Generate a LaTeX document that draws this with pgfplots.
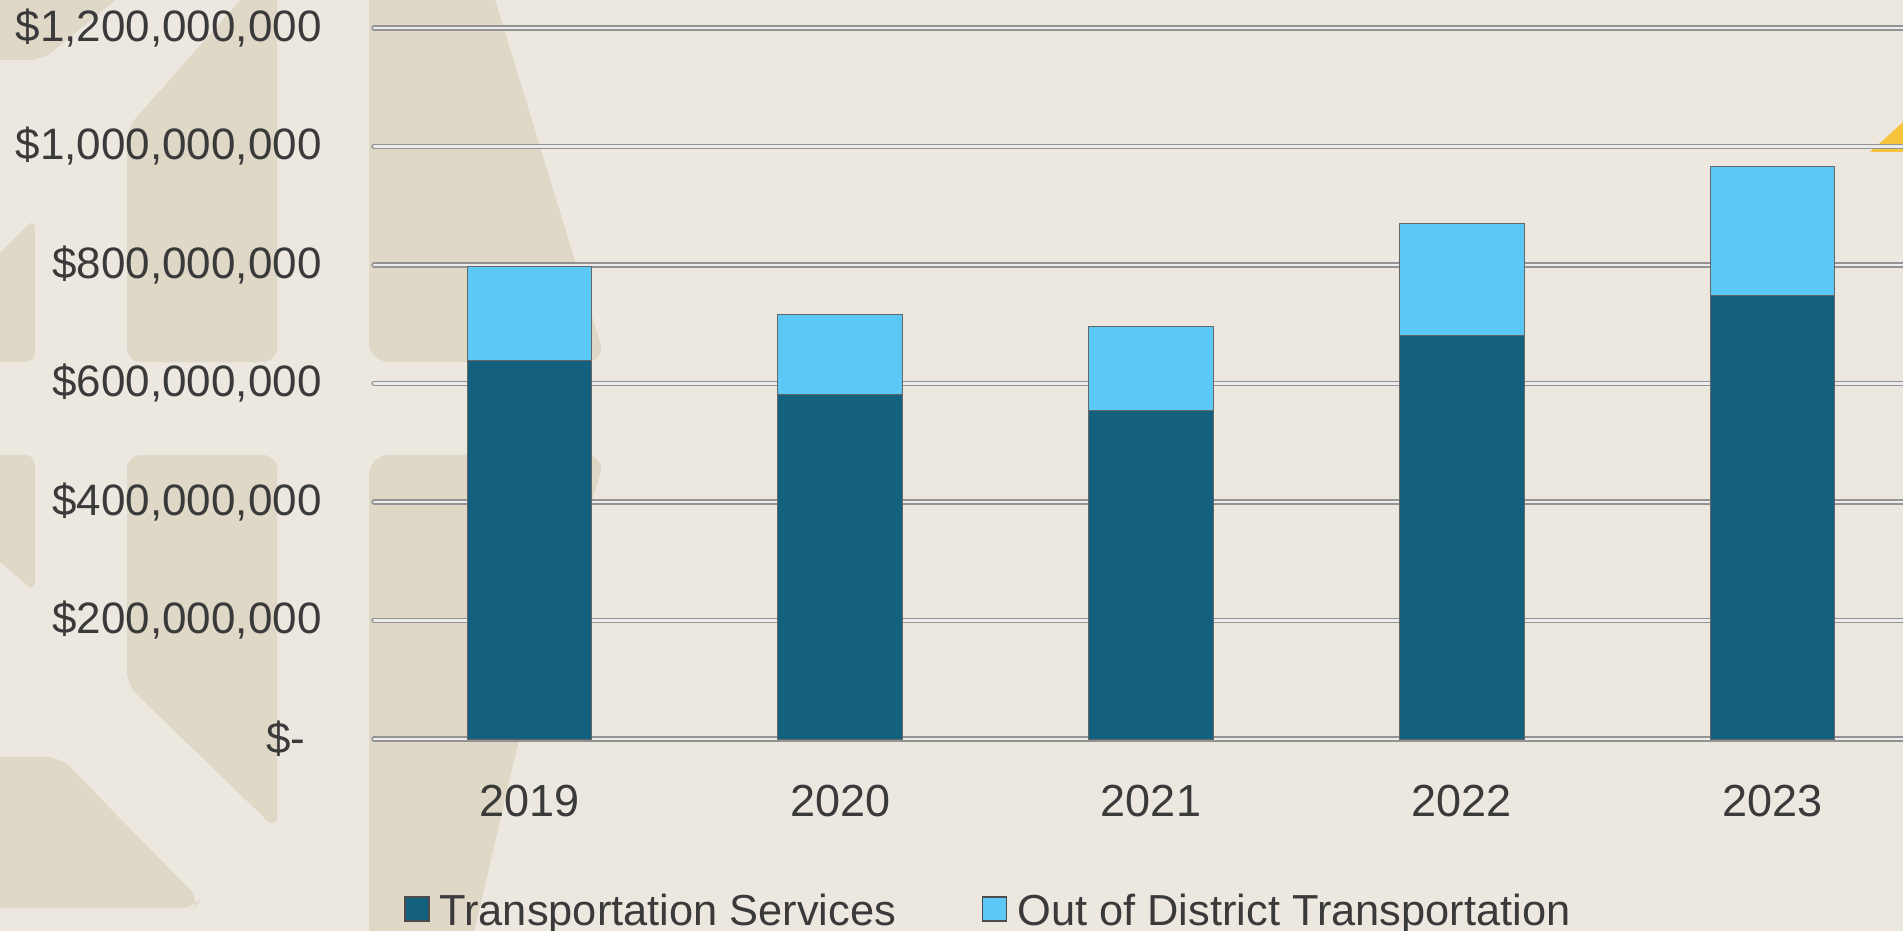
\documentclass[border=0pt]{standalone}
\usepackage{pgfplots}
\pgfplotsset{compat=1.18}
\usepackage{fontspec}
\setmainfont{Liberation Sans}
\definecolor{bgcol}{HTML}{ECE8E0}
\definecolor{shapecol}{HTML}{DFD8C7}
\definecolor{darkbar}{HTML}{13607F}
\definecolor{lightbar}{HTML}{5BC8F5}
\definecolor{txt}{HTML}{3A3A3A}
\definecolor{gold}{HTML}{F8C43E}
\pgfplotstableread{
x ts ood
0 638e6 160e6
1 582e6 134e6
2 555e6 142e6
3 681e6 189e6
4 749e6 217e6
}\datatable
\begin{document}
\begin{tikzpicture}
\useasboundingbox (0,0) rectangle (951.5pt,-465.5pt);
\fill[bgcol] (0,0) rectangle (951.5pt,-465.5pt);
\begin{scope}[x=0.5pt,y=-0.5pt]
\clip (0,0) rectangle (1903,931);
% decorative background shapes (pixel coordinates)
\fill[shapecol, rounded corners=6pt] (-20,-20) -- (140,-20) -- (52,52) -- (40,60) -- (-20,60) -- cycle;
\fill[shapecol, rounded corners=7pt] (258,-20) -- (277,-20) -- (277,362) -- (127,362) -- (127,128) -- cycle;
\fill[shapecol, rounded corners=7pt] (127,455) -- (277,455) -- (277,830) -- (127,685) -- cycle;
\fill[shapecol, rounded corners=5pt] (-20,273) -- (35,218) -- (35,362) -- (-20,362) -- cycle;
\fill[shapecol, rounded corners=5pt] (-20,455) -- (35,455) -- (35,592) -- (-20,545) -- cycle;
\fill[shapecol, rounded corners=7pt] (-20,757) -- (60,757) -- (200,900) -- (195,908) -- (-20,908) -- cycle;
\fill[shapecol, rounded corners=10pt] (369,-20) -- (489,-20) -- (606,362) -- (369,362) -- cycle;
\fill[shapecol, rounded corners=10pt] (369,455) -- (606,455) -- (520,735) -- (470,950) -- (369,950) -- cycle;
\fill[gold] (1870,152) -- (1903,122) -- (1903,152) -- cycle;
\end{scope}
\begin{axis}[
  at={(187pt,-369.5pt)}, anchor=south west,
  scale only axis, width=764.5pt, height=355.5pt,
  xmin=-0.5004, xmax=4.42, ymin=0, ymax=1.2e9,
  clip=false,
  axis line style={draw=none},
  major tick length=0pt,
  tick style={draw=none},
  scaled y ticks=false,
  ytick={0,2e8,4e8,6e8,8e8,1e9,1.2e9},
  yticklabels={{\$-\rule{8pt}{0pt}},{\$200,000,000},{\$400,000,000},{\$600,000,000},{\$800,000,000},{\$1,000,000,000},{\$1,200,000,000}},
  xtick={0,1,2,3,4},
  xticklabels={2019,2020,2021,2022,2023},
  yticklabel style={font=\fontsize{22}{26}\selectfont, text=txt, anchor=east, inner sep=0pt, xshift=-26pt},
  xticklabel style={font=\fontsize{22.5}{26}\selectfont, text=txt, anchor=center, inner sep=0pt, yshift=-31pt},
  ymajorgrids,
  major grid style={draw=gray!85, line width=0.75pt, double=white!85!gray, double distance=1.2pt, line cap=round},
  ybar stacked, bar width=62.25pt,
  legend columns=2,
  legend style={at={(axis description cs:0.0196,-0.242)}, anchor=west, draw=none, fill=none, inner sep=0pt,
    font=\fontsize{21.7}{25}\selectfont, text=txt,
    /tikz/every even column/.append style={column sep=41pt}},
]
\addplot[fill=darkbar, draw=gray!80!black, line width=0.5pt,
  legend image code/.code={\draw[fill=darkbar, draw=gray!60!black, line width=0.6pt] (0pt,-5pt) rectangle (12pt,7pt); \path (15pt,0pt);}]
  table[x=x, y=ts] {\datatable};
\addplot[fill=lightbar, draw=gray!80!black, line width=0.5pt,
  legend image code/.code={\draw[fill=lightbar, draw=gray!60!black, line width=0.6pt] (0pt,-5pt) rectangle (12pt,7pt); \path (15pt,0pt);}]
  table[x=x, y=ood] {\datatable};
\legend{Transportation Services, Out of District Transportation}
\end{axis}
\end{tikzpicture}
\end{document}
